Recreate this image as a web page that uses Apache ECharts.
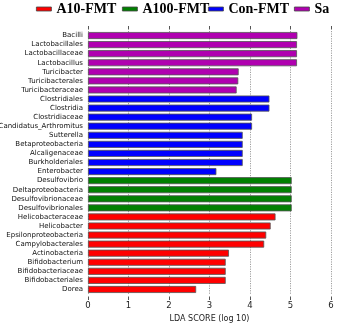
<!DOCTYPE html>
<html><head><meta charset="utf-8">
<script src="https://cdn.jsdelivr.net/npm/echarts@6/dist/echarts.min.js"></script>
<style>html,body{margin:0;padding:0;background:#fff}#c{width:358px;height:326px}</style>
</head><body><div id="c"></div>
<script>
const categories = ["Bacilli","Lactobacillales","Lactobacillaceae","Lactobacillus","Turicibacter","Turicibacterales","Turicibacteraceae",
"Clostridiales","Clostridia","Clostridiaceae","Candidatus_Arthromitus","Sutterella","Betaproteobacteria","Alcaligenaceae","Burkholderiales","Enterobacter",
"Desulfovibrio","Deltaproteobacteria","Desulfovibrionaceae","Desulfovibrionales",
"Helicobacteraceae","Helicobacter","Epsilonproteobacteria","Campylobacterales","Actinobacteria","Bifidobacterium","Bifidobacteriaceae","Bifidobacteriales","Dorea"];
const groups = ["Sa","Sa","Sa","Sa","Sa","Sa","Sa",
"Con-FMT","Con-FMT","Con-FMT","Con-FMT","Con-FMT","Con-FMT","Con-FMT","Con-FMT","Con-FMT",
"A100-FMT","A100-FMT","A100-FMT","A100-FMT",
"A10-FMT","A10-FMT","A10-FMT","A10-FMT","A10-FMT","A10-FMT","A10-FMT","A10-FMT","A10-FMT"];
const scores = [5.17,5.16,5.16,5.16,3.72,3.71,3.67,
4.48,4.48,4.05,4.05,3.82,3.82,3.82,3.82,3.17,
5.03,5.03,5.03,5.03,
4.63,4.51,4.40,4.35,3.48,3.40,3.40,3.40,2.67];
const seriesNames = ["A10-FMT","A100-FMT","Con-FMT","Sa"];
const seriesColors = ["#ff0000","#008000","#0000ff","#b000b0"];
const xTicks = [0,1,2,3,4,5,6];

const chart = echarts.init(document.getElementById('c'), null, {renderer:'canvas'});
const legendLeft = [36,122,208,294];
const option = {
  animation:false,
  legend: seriesNames.map((n,i)=>({
    data:[{name:n, icon:'rect'}], left:legendLeft[i], top:2, itemWidth:15, itemHeight:4, padding:0,
    textStyle:{fontFamily:'Liberation Serif', fontWeight:'bold', fontSize:14, color:'#000'},
    itemStyle:{borderColor:'#444', borderWidth:0.8}
  })),
  grid:{left:88, right:27, top:31, height:263, containLabel:false, outerBoundsMode:'none'},
  xAxis:[{
    type:'value', min:xTicks[0], max:xTicks[xTicks.length-1], interval:1, position:'bottom',
    offset:2.5,
    axisLine:{show:false},
    axisTick:{show:true, length:3.5, lineStyle:{color:'#555'}},
    axisLabel:{fontFamily:'DejaVu Sans', fontSize:8.5, color:'#222', margin:5},
    splitLine:{show:true, lineStyle:{type:[1.2,1.2], color:'#888', width:0.8}},
    name:'LDA SCORE (log 10)', nameLocation:'middle', nameGap:15,
    nameTextStyle:{fontFamily:'DejaVu Sans', fontSize:8, color:'#222'}
  },{
    type:'value', min:xTicks[0], max:xTicks[xTicks.length-1], interval:1, position:'top',
    offset:1.5,
    axisLine:{show:false},
    axisTick:{show:true, length:3.5, lineStyle:{color:'#555'}},
    axisLabel:{show:false}, splitLine:{show:false}
  }],
  yAxis:{
    type:'category', data:categories, inverse:true,
    axisLine:{show:false}, axisTick:{show:false},
    axisLabel:{fontFamily:'DejaVu Sans', fontSize:7, color:'#111', margin:5, interval:0}
  },
  series: seriesNames.map((n,i)=>({
    name:n, type:'bar', stack:'all', barWidth:7,
    itemStyle:{color:seriesColors[i], borderColor:'#555', borderWidth:0.8},
    data: scores.map((v,k)=> groups[k]===n ? v : '-')
  }))
};
chart.setOption(option);
</script></body></html>
